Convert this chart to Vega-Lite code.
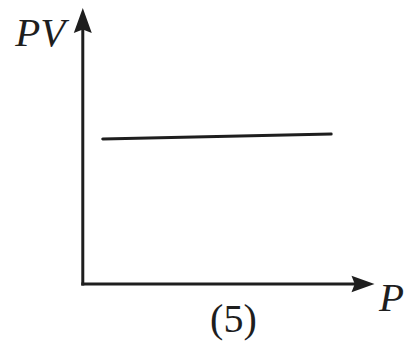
{
  "$schema": "https://vega.github.io/schema/vega-lite/v6.json",
  "width": 405,
  "height": 348,
  "padding": 0,
  "autosize": {"type": "fit", "contains": "padding"},
  "background": "#ffffff",
  "config": {"view": {"stroke": null}},
  "datasets": {
    "axes": [
      {"axis": "PV", "x": 0, "y": 0, "x2": 0, "y2": 9.35},
      {"axis": "P", "x": 0, "y": 0, "x2": 9.6, "y2": 0}
    ],
    "heads": [
      {"axis": "PV", "x": 0, "y": 9.55, "dir": "up"},
      {"axis": "P", "x": 9.62, "y": 0, "dir": "right"}
    ],
    "curve": [
      {"P": 0.685, "PV": 5.254},
      {"P": 8.527, "PV": 5.435}
    ],
    "labels": [
      {"text": "PV", "x": -0.6, "y": 8.62, "kind": "axisY"},
      {"text": "P", "x": 10.17, "y": -0.98, "kind": "axisX"}
    ],
    "caption": [
      {"text": "(5)", "x": 5.17, "y": -1.74}
    ]
  },
  "layer": [
    {
      "data": {"name": "axes"},
      "mark": {"type": "rule", "color": "#1e1e1e", "strokeWidth": 3, "strokeCap": "square"},
      "encoding": {
        "x": {"field": "x", "type": "quantitative", "scale": {"domain": [-2.842, 11.027], "nice": false, "zero": false}, "axis": null},
        "y": {"field": "y", "type": "quantitative", "scale": {"domain": [-2.319, 10.29], "nice": false, "zero": false}, "axis": null},
        "x2": {"field": "x2"},
        "y2": {"field": "y2"}
      }
    },
    {
      "data": {"name": "heads"},
      "transform": [{"filter": "datum.dir === 'up'"}],
      "mark": {"type": "point", "shape": "M0,-1L0.72,1L0,0.72L-0.72,1Z", "filled": true, "color": "#1e1e1e", "size": 625, "opacity": 1},
      "encoding": {
        "x": {"field": "x", "type": "quantitative"},
        "y": {"field": "y", "type": "quantitative"}
      }
    },
    {
      "data": {"name": "heads"},
      "transform": [{"filter": "datum.dir === 'right'"}],
      "mark": {"type": "point", "shape": "M1,0L-1,0.72L-0.72,0L-1,-0.72Z", "filled": true, "color": "#1e1e1e", "size": 530, "opacity": 1},
      "encoding": {
        "x": {"field": "x", "type": "quantitative"},
        "y": {"field": "y", "type": "quantitative"}
      }
    },
    {
      "data": {"name": "curve"},
      "mark": {"type": "line", "color": "#1e1e1e", "strokeWidth": 3, "strokeCap": "round"},
      "encoding": {
        "x": {"field": "P", "type": "quantitative"},
        "y": {"field": "PV", "type": "quantitative"}
      }
    },
    {
      "data": {"name": "labels"},
      "transform": [{"filter": "datum.kind === 'axisY'"}],
      "mark": {"type": "text", "font": "Times New Roman, Liberation Serif, serif", "fontStyle": "italic", "fontSize": 41, "align": "right", "baseline": "alphabetic", "color": "#1e1e1e"},
      "encoding": {
        "x": {"field": "x", "type": "quantitative"},
        "y": {"field": "y", "type": "quantitative"},
        "text": {"field": "text"}
      }
    },
    {
      "data": {"name": "labels"},
      "transform": [{"filter": "datum.kind === 'axisX'"}],
      "mark": {"type": "text", "font": "Times New Roman, Liberation Serif, serif", "fontStyle": "italic", "fontSize": 41, "align": "left", "baseline": "alphabetic", "color": "#1e1e1e"},
      "encoding": {
        "x": {"field": "x", "type": "quantitative"},
        "y": {"field": "y", "type": "quantitative"},
        "text": {"field": "text"}
      }
    },
    {
      "data": {"name": "caption"},
      "mark": {"type": "text", "font": "Times New Roman, Liberation Serif, serif", "fontSize": 40, "align": "center", "baseline": "alphabetic", "color": "#1e1e1e"},
      "encoding": {
        "x": {"field": "x", "type": "quantitative"},
        "y": {"field": "y", "type": "quantitative"},
        "text": {"field": "text"}
      }
    }
  ]
}
